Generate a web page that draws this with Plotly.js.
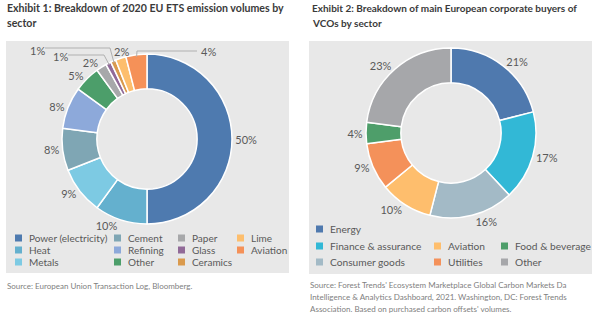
<!DOCTYPE html>
<html><head><meta charset="utf-8">
<script src="https://cdn.plot.ly/plotly-3.0.1.min.js"></script>
<style>html,body{margin:0;padding:0;background:#fff}#chart{width:600px;height:323px}</style>
</head><body><div id="chart"></div>
<script>
// ---- Data ----
const etsSectors = ['Power (electricity)','Heat','Metals','Cement','Refining','Other','Paper','Glass','Ceramics','Lime','Aviation'];
const etsShares  = [50,10,9,8,8,5,2,1,1,2,4];
const etsColors  = ['#4E7AAF','#64B0CE','#7DCAE3','#7FA6B4','#8DA9DA','#4C9E6A','#A7A8AA','#916A98','#DA9A4D','#FDBE6D','#F59158'];

const vcoSectors = ['Energy','Finance & assurance','Consumer goods','Aviation','Utilities','Food & beverage','Other'];
const vcoShares  = [21,17,16,10,9,4,23];
const vcoColors  = ['#4F79AE','#32B8D6','#A3BAC6','#FEBE6D','#F4915A','#4E9E6A','#A6A7AA'];

const title1 = ['Exhibit 1: Breakdown of 2020 EU ETS emission volumes by','sector'];
const title2 = ['Exhibit 2: Breakdown of main European corporate buyers of','VCOs by sector'];
const source1 = ['Source: European Union Transaction Log, Bloomberg.'];
const source2 = ["Source: Forest Trends' Ecosystem Marketplace Global Carbon Markets Da",
                 'Intelligence & Analytics Dashboard, 2021. Washington, DC: Forest Trends',
                 "Association. Based on purchased carbon offsets' volumes."];

// ---- Layout helpers ----
const W = 600, H = 323;
const FONT = 'Lato, "Open Sans", sans-serif';
const TXT = '#595959';
const px = x => x / W;
const py = y => 1 - y / H;

// pie geometry (px)
const pieL = {cx: 147, cy: 139, r: 85};
const pieR = {cx: 451, cy: 133, r: 85};
const domainOf = p => ({x: [px(p.cx - p.r), px(p.cx + p.r)], y: [py(p.cy + p.r), py(p.cy - p.r)]});

// slices with leader-line labels on the left chart: index -> label placement
const leader = {
  8:  {lx: 37,  ly: 50, path: [[45,48],[110,48]]},
  7:  {lx: 60,  ly: 56, path: [[68,55],[104,55]]},
  9:  {lx: 121, ly: 51, path: []},
  10: {lx: 208, ly: 51, path: [[197,51],[137,51]]}
};

const etsText = etsShares.map((v,i) => leader[i] ? '' : v + '%');

const traces = [
  {type:'pie', labels: etsSectors, values: etsShares, sort:false, direction:'clockwise', rotation:0,
   hole:0.59, domain: domainOf(pieL), marker:{colors: etsColors, line:{color:'#ffffff', width:1.5}},
   texttemplate: etsText, textposition:'outside', textfont:{family:FONT, size:11, color:TXT},
   showlegend:false, hoverinfo:'label+value'},
  {type:'pie', labels: vcoSectors, values: vcoShares, sort:false, direction:'clockwise', rotation:0,
   hole:0.59, domain: domainOf(pieR), marker:{colors: vcoColors, line:{color:'#ffffff', width:1.5}},
   texttemplate: '%{value}%', textposition:'outside', textfont:{family:FONT, size:11, color:TXT},
   showlegend:false, hoverinfo:'label+value'}
];

const shapes = [
  {type:'rect', xref:'paper', yref:'paper', x0:px(6), x1:px(289), y0:py(273), y1:py(41), fillcolor:'#E8E8E8', line:{width:0}, layer:'below'},
  {type:'rect', xref:'paper', yref:'paper', x0:px(309), x1:px(592), y0:py(274), y1:py(41), fillcolor:'#E8E8E8', line:{width:0}, layer:'below'}
];
const annotations = [];
const ann = (x, y, text, size, color, extra) => annotations.push(Object.assign({
  xref:'paper', yref:'paper', x:px(x), y:py(y), text, showarrow:false, xanchor:'left', yanchor:'middle',
  font:{family:FONT, size, color}}, extra || {}));

// titles and sources
title1.forEach((t,i) => ann(5, 8 + i*15, '<b>' + t + '</b>', 10.6, '#3A3A3A'));
title2.forEach((t,i) => ann(310, 8 + i*15, '<b>' + t + '</b>', 10, '#3A3A3A'));
source1.forEach((t,i) => ann(5, 286 + i*12, t, 8, '#808080'));
source2.forEach((t,i) => ann(308, 285 + i*12, t, 8, '#808080'));

// leader-line labels (left chart)
const total1 = etsShares.reduce((a,b)=>a+b,0);
let cum = 0;
etsShares.forEach((v,i) => {
  const mid = (cum + v/2) / total1 * 2 * Math.PI; cum += v;
  const L = leader[i]; if (!L) return;
  const sx = pieL.cx + (pieL.r - 2) * Math.sin(mid), sy = pieL.cy - (pieL.r - 2) * Math.cos(mid);
  ann(L.lx, L.ly, v + '%', 11, TXT, {xanchor:'center'});
  if (L.path.length) {
    const pts = L.path.concat([[sx, sy]]);
    const d = pts.map((p,k) => (k ? 'L' : 'M') + px(p[0]) + ',' + py(p[1])).join(' ');
    shapes.push({type:'path', xref:'paper', yref:'paper', path:d, line:{color:'#B0B0B0', width:1}});
  }
});

// legends
const sw = 7;
function legend(names, colors, cells, colX, rowY, size) {
  names.forEach((n,i) => {
    const [r,c] = cells[i];
    const tx = colX[c], ty = rowY[r];
    shapes.push({type:'rect', xref:'paper', yref:'paper', x0:px(tx-12), x1:px(tx-12+sw), y0:py(ty+sw/2), y1:py(ty-sw/2),
                 fillcolor: colors[i], line:{width:0}});
    ann(tx, ty, n, size, TXT);
  });
}
legend(etsSectors, etsColors, etsSectors.map((_,i)=>[i%3, Math.floor(i/3)]), [27,126,190,249], [238,250,262], 10);
legend(vcoSectors, vcoColors, [[0,0],[1,0],[2,0],[1,1],[2,1],[1,2],[2,2]], [328,446,513], [229,246,262], 10.2);

const layout = {width:W, height:H, margin:{l:0,r:0,t:0,b:0}, paper_bgcolor:'#ffffff', plot_bgcolor:'#ffffff',
  shapes, annotations, showlegend:false, font:{family:FONT}};
Plotly.newPlot('chart', traces, layout, {displayModeBar:false, staticPlot:true});
</script></body></html>
